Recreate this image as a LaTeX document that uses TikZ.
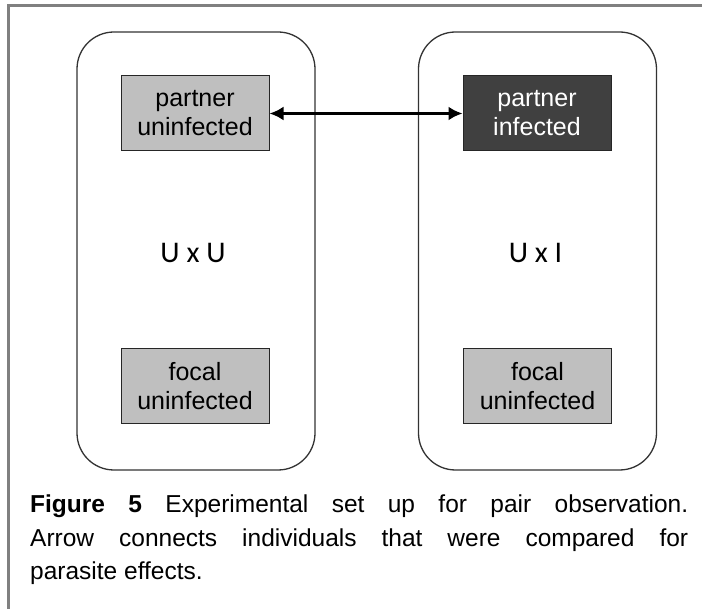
\documentclass[tikz,border=0pt]{standalone}
\usepackage{fontspec}
\setmainfont{Liberation Sans}
\newfontfamily\calfont{Carlito}
\usetikzlibrary{arrows.meta}
\tikzset{
  cage/.style={draw=black!80,line width=1.3pt,rounded corners=37pt,minimum width=238pt,minimum height=438pt},
  lightbox/.style={draw=black!85,fill=black!25,line width=1pt,minimum width=148pt,minimum height=75pt,inner sep=0pt,align=center,font=\fontsize{25}{29}\selectfont},
  darkbox/.style={lightbox,fill=black!75,text=white},
  crosslabel/.style={font=\calfont\fontsize{30}{36}\selectfont}
}
\begin{document}
\begin{tikzpicture}[x=1pt,y=-1pt]
\useasboundingbox (0,0) rectangle (702,609);
\draw[black!50,line width=2.7pt] (8.7,609)--(8.7,5.2)--(702,5.2);
\node[cage] (uu) at (196,251){};
\node[cage] (ui) at (537.5,251){};
\node[lightbox] (pu) at (195,113.5){partner\\uninfected};
\node[darkbox] (pi) at (537,113.5){partner\\infected};
\node[lightbox] (fu) at (195,386){focal\\uninfected};
\node[lightbox] (fi) at (537.5,386){focal\\uninfected};
\node[crosslabel] (luu) at (193,253){U x U};
\node[crosslabel] (lui) at (535.5,253){U x I};
\draw[{Latex[length=14pt,width=14pt]}-{Latex[length=14pt,width=14pt]},line width=2.7pt] (pu)--(pi);
\node[anchor=north west,text width=658pt,align=justify,inner sep=0pt,font=\fontsize{24.5}{33.5}\selectfont] (cap) at (30,495)
  {\textbf{Figure 5} Experimental set up for pair observation.\linebreak
   Arrow connects individuals that were compared for\linebreak
   parasite effects.};
\end{tikzpicture}
\end{document}
